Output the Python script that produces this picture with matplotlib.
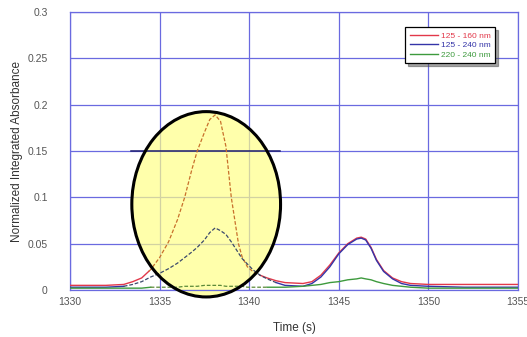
import matplotlib
matplotlib.use("Agg")
import matplotlib.pyplot as plt
import numpy as np
from matplotlib.patches import Ellipse

plt.rcParams["font.family"] = ["Liberation Sans", "DejaVu Sans"]

# time axis (s) and the three normalized absorbance traces
time_s = [1330, 1331, 1332, 1333, 1333.5, 1334, 1334.5, 1335, 1335.5, 1336,
          1336.4, 1336.8, 1337.1, 1337.5, 1337.8, 1338.1, 1338.4, 1338.7, 1339.0,
          1339.4, 1339.6, 1339.9, 1340.2, 1340.6, 1341.0, 1341.5, 1342, 1343,
          1343.5, 1344, 1344.5, 1345, 1345.5, 1346, 1346.25, 1346.5, 1346.8,
          1347.1, 1347.5, 1348, 1348.5, 1349, 1350, 1352, 1355]
red_125_160 = [0.005, 0.005, 0.005, 0.006, 0.009, 0.013, 0.022, 0.035, 0.052, 0.076,
               0.100, 0.130, 0.150, 0.170, 0.184, 0.189, 0.182, 0.155, 0.100,
               0.050, 0.036, 0.025, 0.020, 0.016, 0.013, 0.010, 0.008, 0.007,
               0.009, 0.016, 0.027, 0.040, 0.050, 0.056, 0.057, 0.055, 0.046,
               0.033, 0.021, 0.013, 0.009, 0.007, 0.006, 0.006, 0.006]
blue_125_240 = [0.003, 0.003, 0.003, 0.004, 0.006, 0.009, 0.014, 0.018, 0.023, 0.029,
                0.035, 0.041, 0.046, 0.054, 0.062, 0.067, 0.064, 0.060, 0.052,
                0.040, 0.034, 0.028, 0.022, 0.016, 0.012, 0.008, 0.005, 0.004,
                0.007, 0.014, 0.025, 0.039, 0.049, 0.055, 0.056, 0.054, 0.045,
                0.032, 0.020, 0.012, 0.007, 0.005, 0.004, 0.003, 0.003]
green_220_240 = [0.002, 0.002, 0.002, 0.002, 0.002, 0.002, 0.003, 0.003, 0.003, 0.003,
                 0.004, 0.004, 0.004, 0.005, 0.005, 0.005, 0.005, 0.004, 0.004,
                 0.004, 0.004, 0.003, 0.003, 0.003, 0.003, 0.003, 0.003, 0.004,
                 0.005, 0.006, 0.008, 0.009, 0.011, 0.012, 0.013, 0.012, 0.011,
                 0.009, 0.007, 0.005, 0.004, 0.003, 0.002, 0.002, 0.002]

series_labels = ["125 - 160 nm", "125 - 240 nm", "220 - 240 nm"]
x_ticks = [1330, 1335, 1340, 1345, 1350, 1355]
y_ticks = [0, 0.05, 0.1, 0.15, 0.2, 0.25, 0.3]

GRID = "#6a6ae0"
TICK_GRAY = "#555555"


def split(t, y, lo, hi):
    """Return (outside-left, inside, outside-right) pieces sharing edge points."""
    t = np.asarray(t, float)
    y = np.asarray(y, float)
    ylo, yhi = np.interp([lo, hi], t, y)
    left = (np.r_[t[t < lo], lo], np.r_[y[t < lo], ylo])
    mid_mask = (t > lo) & (t < hi)
    mid = (np.r_[lo, t[mid_mask], hi], np.r_[ylo, y[mid_mask], yhi])
    right = (np.r_[hi, t[t > hi]], np.r_[yhi, y[t > hi]])
    return left, mid, right


fig = plt.figure(figsize=(5.27, 3.37), dpi=100)
ax = fig.add_axes([70 / 527, 1 - 290 / 337, 448 / 527, 278 / 337])

ax.set_xlim(1330, 1355)
ax.set_ylim(0, 0.3)
ax.set_xticks(x_ticks)
ax.set_yticks(y_ticks)
ax.set_yticklabels(["0", "0.05", "0.1", "0.15", "0.2", "0.25", "0.3"])
ax.tick_params(length=0, labelsize=7.5, labelcolor=TICK_GRAY)
ax.tick_params(axis="y", pad=16)
ax.tick_params(axis="x", pad=5)
ax.grid(True, color=GRID, linewidth=0.9, zorder=0)
ax.set_axisbelow(True)
for sp in ax.spines.values():
    sp.set_color(GRID)
    sp.set_linewidth(0.9)

traces = [
    (red_125_160, "#e2384a", "#c8702c", (1334.4, 1340.6)),
    (blue_125_240, "#3434a8", "#3c4a6c", (1333.0, 1341.5)),
    (green_220_240, "#3d9a3d", "#5c8a3a", (1334.5, 1341.0)),
]
handles = []
for (vals, col, inner, (lo, hi)), lab in zip(traces, series_labels):
    left, mid, right = split(time_s, vals, lo, hi)
    h, = ax.plot(*left, color=col, lw=1.0, zorder=3, label=lab)
    ax.plot(*right, color=col, lw=1.0, zorder=3)
    ax.plot(*mid, color=inner, lw=0.9, ls=(0, (3, 1.5)), zorder=5)
    handles.append(h)

# highlighted region around the first peak
ell = Ellipse((1337.6, 0.0925), width=8.3, height=0.2, facecolor="#ffff88",
              alpha=0.7, edgecolor="none", zorder=2, clip_on=False)
ax.add_patch(ell)
ell_edge = Ellipse((1337.6, 0.0925), width=8.3, height=0.2, facecolor="none",
                   edgecolor="black", linewidth=2.2, zorder=6, clip_on=False)
ax.add_patch(ell_edge)
ax.plot([1333.4, 1341.7], [0.15, 0.15], color="#1c1c70", lw=1.1, zorder=4)

ax.set_xlabel("Time (s)", fontsize=8.5, color="#333333", labelpad=11)
ax.set_ylabel("Normalized Integrated Absorbance", fontsize=8.5, color="#333333",
              labelpad=3)

leg = ax.legend(handles=handles, loc="upper right", bbox_to_anchor=(0.958, 0.96),
                fontsize=6, frameon=True, fancybox=False, shadow=True,
                edgecolor="black", handlelength=3.4, handletextpad=0.3,
                borderpad=0.55, labelspacing=0.2)
leg.get_frame().set_linewidth(0.9)
for txt, (_, col, _, _) in zip(leg.get_texts(), traces):
    txt.set_color(col)

fig.savefig("out.png", dpi=100)
